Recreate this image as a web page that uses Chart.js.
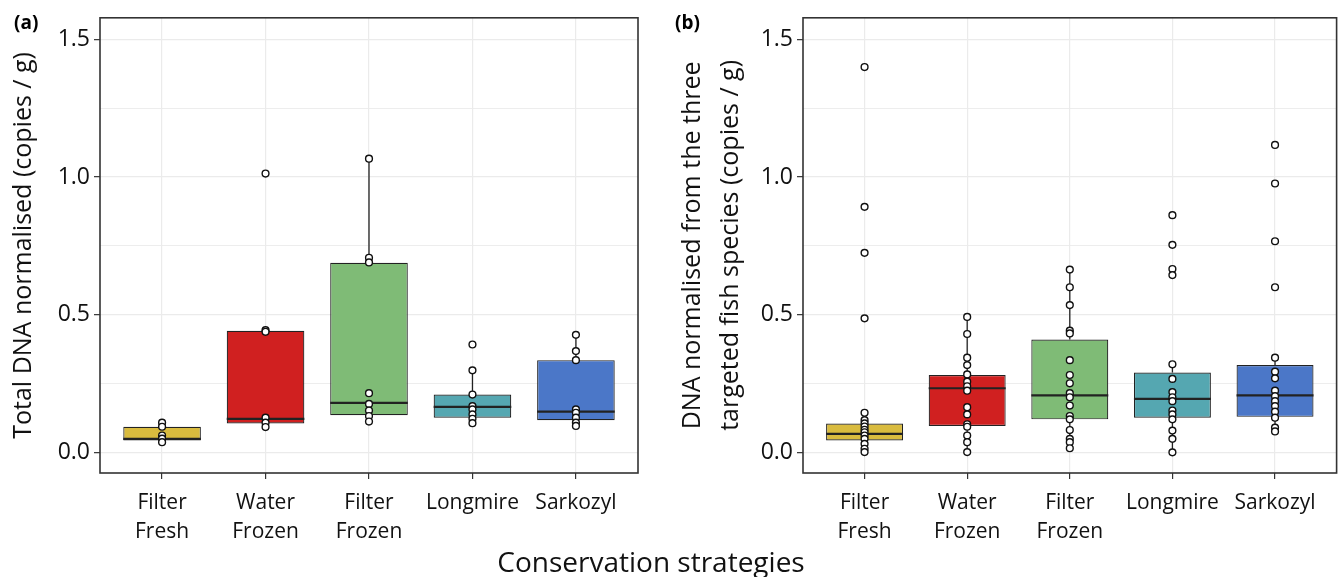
<!DOCTYPE html>
<html>
<head>
<meta charset="utf-8">
<script src="https://cdn.jsdelivr.net/npm/chart.js@4.4.1/dist/chart.umd.min.js"></script>
<style>
  html, body { margin: 0; padding: 0; background: #fff; }
  body { width: 1342px; height: 577px; position: relative; overflow: hidden; font-family: 'Open Sans', sans-serif; }
  #wa { position: absolute; left: 0; top: 0; width: 660px; height: 577px; }
  #wb { position: absolute; left: 660px; top: 0; width: 682px; height: 577px; }
  .plabel { position: absolute; font-weight: bold; font-size: 19px; color: #000; line-height: 1; }
  #xtitle { position: absolute; left: -20px; width: 1342px; top: 545px; text-align: center; font-size: 28px; color: #111; line-height: 1.2; }
</style>
</head>
<body>
<div id="wa"><canvas id="ca" width="660" height="577"></canvas></div>
<div id="wb"><canvas id="cb" width="682" height="577"></canvas></div>
<div class="plabel" style="left:14px; top:13px;">(a)</div>
<div class="plabel" style="left:675px; top:13px;">(b)</div>
<div id="xtitle">Conservation strategies</div>
<script>
// ---------- data ----------
const categories = [['Filter', 'Fresh'], ['Water', 'Frozen'], ['Filter', 'Frozen'], 'Longmire', 'Sarkozyl'];
const boxColors = ['#d9bb3e', '#d02020', '#7fbb76', '#55a7b1', '#4b77c8'];
const yGridValues = [0, 0.25, 0.5, 0.75, 1.0, 1.25, 1.5];
const yTickLabels = [0, 0.5, 1.0, 1.5];

// Panel (a): Total DNA
const aQ1 = [0.043, 0.105, 0.135, 0.126, 0.117];
const aMedian = [0.049, 0.122, 0.180, 0.165, 0.148];
const aQ3 = [0.093, 0.442, 0.689, 0.210, 0.335];
const aWhiskerLow = [0.037, 0.092, 0.112, 0.106, 0.096];
const aWhiskerHigh = [0.108, 0.444, 1.067, 0.298, 0.427];
const aPointsFilterFresh = [0.108, 0.093, 0.061, 0.050, 0.037];
const aPointsWaterFrozen = [1.013, 0.444, 0.438, 0.126, 0.108, 0.092];
const aPointsFilterFrozen = [1.067, 0.707, 0.690, 0.215, 0.176, 0.152, 0.132, 0.112];
const aPointsLongmire = [0.392, 0.298, 0.210, 0.168, 0.156, 0.138, 0.122, 0.106];
const aPointsSarkozyl = [0.427, 0.368, 0.335, 0.156, 0.144, 0.126, 0.108, 0.096];

// Panel (b): DNA from the three targeted fish species
const bQ1 = [0.043, 0.096, 0.120, 0.126, 0.129];
const bMedian = [0.067, 0.233, 0.207, 0.194, 0.207];
const bQ3 = [0.105, 0.281, 0.410, 0.290, 0.317];
const bWhiskerLow = [0.001, 0.001, 0.015, 0.0, 0.076];
const bWhiskerHigh = [0.144, 0.492, 0.664, 0.320, 0.344];
const bPointsFilterFresh = [1.40, 0.892, 0.725, 0.487, 0.144, 0.117, 0.105, 0.094, 0.082, 0.073, 0.061, 0.049, 0.031, 0.013, 0.001];
const bPointsWaterFrozen = [0.492, 0.430, 0.344, 0.317, 0.283, 0.257, 0.240, 0.224, 0.164, 0.138, 0.102, 0.093, 0.061, 0.037, 0.001];
const bPointsFilterFrozen = [0.664, 0.600, 0.535, 0.442, 0.432, 0.335, 0.281, 0.251, 0.215, 0.200, 0.170, 0.132, 0.120, 0.081, 0.049, 0.037, 0.015];
const bPointsLongmire = [0.862, 0.754, 0.666, 0.644, 0.320, 0.267, 0.219, 0.200, 0.186, 0.152, 0.138, 0.120, 0.079, 0.049, 0.0];
const bPointsSarkozyl = [1.117, 0.977, 0.767, 0.600, 0.344, 0.293, 0.269, 0.224, 0.204, 0.186, 0.168, 0.148, 0.126, 0.090, 0.076];

// ---------- rendering ----------
Chart.defaults.font.family = "'Open Sans', sans-serif";
Chart.defaults.color = '#111';

const boxExtras = {
  id: 'boxExtras',
  beforeDatasetDraw(chart, args, opts) {
    if (args.index !== 0) return;
    const ctx = chart.ctx, y = chart.scales.y;
    const bars = chart.getDatasetMeta(0).data;
    ctx.save();
    ctx.strokeStyle = '#222';
    ctx.lineWidth = 1.3;
    bars.forEach((bar, i) => {
      ctx.beginPath();
      ctx.moveTo(bar.x, y.getPixelForValue(opts.low[i]));
      ctx.lineTo(bar.x, y.getPixelForValue(opts.q1[i]));
      ctx.moveTo(bar.x, y.getPixelForValue(opts.q3[i]));
      ctx.lineTo(bar.x, y.getPixelForValue(opts.high[i]));
      ctx.stroke();
    });
    ctx.restore();
  },
  afterDatasetDraw(chart, args, opts) {
    if (args.index !== 0) return;
    const ctx = chart.ctx, y = chart.scales.y;
    const bars = chart.getDatasetMeta(0).data;
    ctx.save();
    ctx.strokeStyle = '#222';
    ctx.lineWidth = 2.2;
    bars.forEach((bar, i) => {
      const py = y.getPixelForValue(opts.median[i]);
      ctx.beginPath();
      ctx.moveTo(bar.x - bar.width / 2, py);
      ctx.lineTo(bar.x + bar.width / 2, py);
      ctx.stroke();
    });
    ctx.restore();
  },
  afterDraw(chart) {
    const {ctx, chartArea: a} = chart;
    ctx.save();
    ctx.strokeStyle = '#333';
    ctx.lineWidth = 1.6;
    ctx.strokeRect(a.left, a.top, a.right - a.left, a.bottom - a.top);
    ctx.restore();
  }
};

function makeChart(id, q1, med, q3, lo, hi, pointGroups, cfg) {
  const boxData = q1.map((v, i) => ({x: i + 1, y: [v, q3[i]]}));
  const pts = [];
  pointGroups.forEach((g, i) => g.forEach(v => pts.push({x: i + 1, y: v})));
  return new Chart(document.getElementById(id), {
    type: 'bar',
    data: {
      datasets: [
        {
          type: 'bar', order: 2, data: boxData,
          backgroundColor: boxColors, borderColor: '#222', borderWidth: 1.2,
          borderSkipped: false, barPercentage: 0.75, categoryPercentage: 1.0
        },
        {
          type: 'scatter', order: 1, data: pts,
          pointRadius: 3.4, pointBorderWidth: 1.4,
          pointBackgroundColor: '#ffffff', pointBorderColor: '#111'
        }
      ]
    },
    options: {
      responsive: false, animation: false,
      layout: {padding: cfg.padding},
      plugins: {
        legend: {display: false}, tooltip: {enabled: false},
        boxExtras: {q1: q1, q3: q3, median: med, low: lo, high: hi}
      },
      scales: {
        x: {
          type: 'linear', min: 0.4, max: 5.6, offset: false,
          afterBuildTicks: s => { s.ticks = categories.map((c, i) => ({value: i + 1})); },
          afterFit: s => { s.height = 104; },
          border: {display: false},
          grid: {offset: false, color: '#ebebeb', lineWidth: 1.2, tickColor: '#333', tickLength: 6, tickWidth: 1.2},
          ticks: {
            autoSkip: false, maxRotation: 0, padding: 10,
            font: {size: 21, lineHeight: 1.36}, color: '#111',
            callback: v => categories[Math.round(v) - 1]
          }
        },
        y: {
          type: 'linear', min: -0.075, max: 1.579,
          afterBuildTicks: s => { s.ticks = yGridValues.map(v => ({value: v})); },
          afterFit: s => { s.width = cfg.yWidth; },
          border: {display: false},
          grid: {
            color: '#ebebeb',
            lineWidth: c => (c.tick && yTickLabels.includes(c.tick.value)) ? 1.3 : 0.9,
            tickColor: c => (c.tick && yTickLabels.includes(c.tick.value)) ? '#333' : 'rgba(0,0,0,0)',
            tickLength: 6, tickWidth: 1.2
          },
          ticks: {
            padding: 4, font: {size: 23}, color: '#111',
            callback: v => yTickLabels.includes(v) ? v.toFixed(1) : ''
          },
          title: {
            display: true, text: cfg.yTitle, color: '#111',
            font: {size: 25, lineHeight: cfg.titleLH}, padding: {top: cfg.titlePad, bottom: 0}
          }
        }
      }
    },
    plugins: [boxExtras]
  });
}

makeChart('ca', aQ1, aMedian, aQ3, aWhiskerLow, aWhiskerHigh,
  [aPointsFilterFresh, aPointsWaterFrozen, aPointsFilterFrozen, aPointsLongmire, aPointsSarkozyl],
  {padding: {top: 10, right: 22, bottom: 0, left: 0}, yWidth: 100,
   yTitle: 'Total DNA normalised (copies / g)', titleLH: 1.2, titlePad: 9});

makeChart('cb', bQ1, bMedian, bQ3, bWhiskerLow, bWhiskerHigh,
  [bPointsFilterFresh, bPointsWaterFrozen, bPointsFilterFrozen, bPointsLongmire, bPointsSarkozyl],
  {padding: {top: 11, right: 2, bottom: 0, left: 0}, yWidth: 143,
   yTitle: ['DNA normalised from the three', 'targeted fish species (copies / g)'], titleLH: 1.52, titlePad: 14});
</script>
</body>
</html>
